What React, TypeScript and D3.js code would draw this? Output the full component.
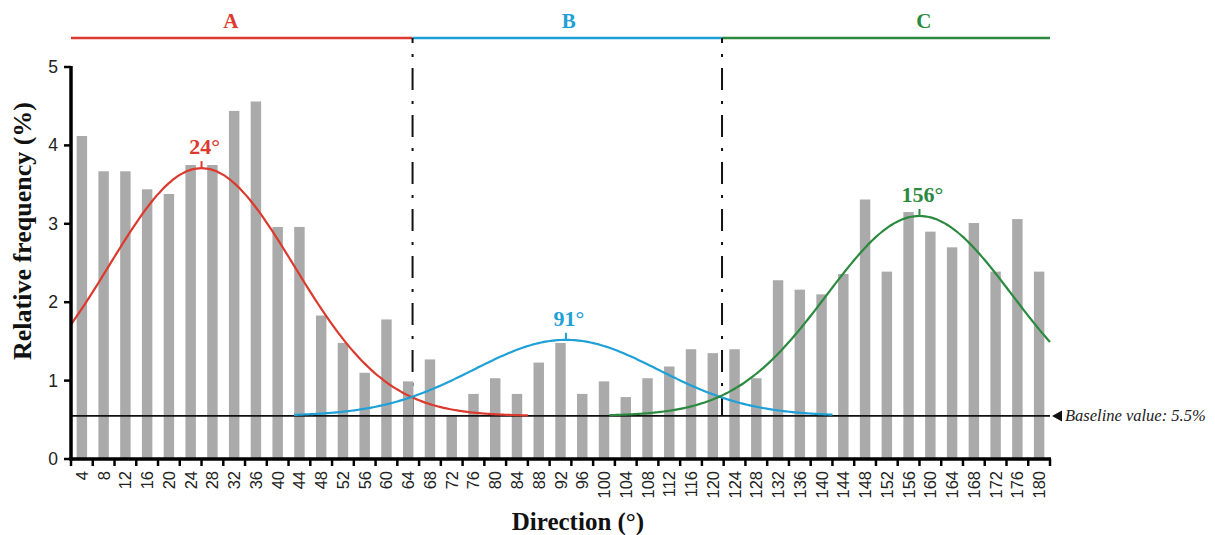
import React from 'react';
import * as d3 from 'd3';

// ---- data ----
const directions = [4, 8, 12, 16, 20, 24, 28, 32, 36, 40, 44, 48, 52, 56, 60, 64, 68, 72, 76, 80, 84, 88, 92, 96, 100, 104, 108, 112, 116, 120, 124, 128, 132, 136, 140, 144, 148, 152, 156, 160, 164, 168, 172, 176, 180];
const frequencies = [4.12, 3.67, 3.67, 3.44, 3.38, 3.75, 3.75, 4.44, 4.56, 2.96, 2.96, 1.83, 1.48, 1.10, 1.78, 0.99, 1.27, 0.55, 0.83, 1.03, 0.83, 1.23, 1.48, 0.83, 0.99, 0.79, 1.03, 1.18, 1.40, 1.35, 1.40, 1.03, 2.28, 2.16, 2.10, 2.36, 3.31, 2.39, 3.15, 2.90, 2.70, 3.01, 2.39, 3.06, 2.39];
const yTicks = [0, 1, 2, 3, 4, 5];
const baselineValue = 0.55;
const baselineLabel = 'Baseline value: 5.5%';

// fitted components (peak direction, peak height above baseline, spread, drawn range)
const componentNames = ['A', 'B', 'C'];
const componentColors = ['#dc3a2e', '#1fa0d6', '#2b8a3f'];
const componentPeaks = [24, 91, 156];
const componentHeights = [3.16, 0.97, 2.55];
const componentSigmas = [17, 17, 17];
const componentFrom = [0, 41, 99];
const componentTo = [84, 140, 180];
const componentLabels = ['24°', '91°', '156°'];
// section boundaries along the top bar
const sectionBounds = [0, 62.8, 119.7, 180];
const sectionLabelAt = [29.4, 91.5, 156.8];

const W = 1215;
const H = 535;
const X0 = 71;
const X1 = 1050;
const Y0 = 459;
const Y1 = 67;
const TOP = 38;

export default function App() {
  const x = d3.scaleLinear().domain([0, 180]).range([X0, X1]);
  const y = d3.scaleLinear().domain([0, 5]).range([Y0, Y1]);
  const band = d3
    .scaleBand<number>()
    .domain(directions)
    .range([X0, X1])
    .paddingInner(0.52)
    .paddingOuter(0.26);
  const step = band.step();

  const serif = '"Liberation Serif", "Times New Roman", serif';
  const sans = '"Liberation Sans", Arial, sans-serif';

  const curves = componentPeaks.map((mu, i) => {
    const pts: [number, number][] = [];
    const sig = componentSigmas[i];
    for (let d = componentFrom[i]; d <= componentTo[i] + 1e-9; d += 0.5) {
      const v = baselineValue + componentHeights[i] * Math.exp(-((d - mu) ** 2) / (2 * sig * sig));
      pts.push([d, v]);
    }
    return pts;
  });
  const line = d3
    .line<[number, number]>()
    .x((p) => x(p[0]))
    .y((p) => y(p[1]))
    .curve(d3.curveBasis);

  const boundaryTicks = d3.range(0, directions.length + 1).map((i) => X0 + i * step);

  return (
    <svg
      width={W}
      height={H}
      style={{ position: 'absolute', left: 0, top: 0, background: '#fff' }}
    >
      {/* top section lines and labels */}
      {componentNames.map((n, i) => (
        <g key={n}>
          <line
            x1={x(sectionBounds[i])}
            x2={x(sectionBounds[i + 1])}
            y1={TOP}
            y2={TOP}
            stroke={componentColors[i]}
            strokeWidth={2.5}
          />
          <text
            x={x(sectionLabelAt[i])}
            y={28}
            textAnchor="middle"
            fontFamily={serif}
            fontWeight="bold"
            fontSize={21}
            fill={componentColors[i]}
          >
            {n}
          </text>
        </g>
      ))}

      {/* dash-dot dividers */}
      {[sectionBounds[1], sectionBounds[2]].map((d, i) => (
        <line
          key={i}
          x1={x(d)}
          x2={x(d)}
          y1={TOP}
          y2={y(baselineValue)}
          stroke="#111"
          strokeWidth={2}
          strokeDasharray="22,11,3,11"
          strokeDashoffset={17}
        />
      ))}

      {/* bars */}
      {directions.map((d, i) => (
        <rect
          key={d}
          x={band(d)}
          y={y(frequencies[i])}
          width={band.bandwidth()}
          height={y(0) - y(frequencies[i])}
          fill="#aaaaaa"
        />
      ))}

      {/* baseline */}
      <line x1={X0} x2={X1} y1={y(baselineValue)} y2={y(baselineValue)} stroke="#111" strokeWidth={1.6} />
      <path
        d={`M${X1 + 2},${y(baselineValue)} L${X1 + 12},${y(baselineValue) - 5.5} L${X1 + 12},${y(baselineValue) + 5.5} Z`}
        fill="#111"
      />
      <text
        x={X1 + 15}
        y={y(baselineValue) + 5}
        fontFamily={serif}
        fontStyle="italic"
        fontSize={16.5}
        fill="#222"
      >
        {baselineLabel}
      </text>

      {/* fitted curves */}
      {curves.map((pts, i) => (
        <path key={i} d={line(pts) || ''} fill="none" stroke={componentColors[i]} strokeWidth={2.2} />
      ))}

      {/* peak markers */}
      {componentPeaks.map((mu, i) => {
        const py = y(baselineValue + componentHeights[i]);
        return (
          <g key={mu}>
            <line x1={x(mu)} x2={x(mu)} y1={py} y2={py - 7} stroke={componentColors[i]} strokeWidth={2} />
            <text
              x={x(mu) + 3}
              y={py - 14}
              textAnchor="middle"
              fontFamily={serif}
              fontWeight="bold"
              fontSize={22}
              fill={componentColors[i]}
            >
              {componentLabels[i]}
            </text>
          </g>
        );
      })}

      {/* y axis */}
      <line x1={X0} x2={X0} y1={Y1 - 1} y2={Y0 + 1.5} stroke="#000" strokeWidth={3.5} />
      {yTicks.map((t) => (
        <g key={t}>
          <line x1={X0 - 7} x2={X0} y1={y(t)} y2={y(t)} stroke="#000" strokeWidth={2.5} />
          <text
            x={X0 - 13}
            y={y(t)}
            textAnchor="end"
            dominantBaseline="central"
            fontFamily={sans}
            fontSize={17.5}
            fill="#222"
          >
            {t}
          </text>
        </g>
      ))}
      <text
        transform={`translate(31, 231) rotate(-90)`}
        textAnchor="middle"
        fontFamily={serif}
        fontWeight="bold"
        fontSize={26}
        fill="#111"
      >
        Relative frequency (%)
      </text>

      {/* x axis */}
      <line x1={X0 - 1.5} x2={X1 + 1} y1={Y0} y2={Y0} stroke="#000" strokeWidth={3.5} />
      {boundaryTicks.map((bx, i) => (
        <line key={i} x1={bx} x2={bx} y1={Y0} y2={Y0 + 7} stroke="#000" strokeWidth={2.5} />
      ))}
      {directions.map((d) => (
        <text
          key={d}
          transform={`translate(${(band(d) || 0) + band.bandwidth() / 2}, 471) rotate(-90)`}
          textAnchor="end"
          dominantBaseline="central"
          fontFamily={sans}
          fontSize={16.5}
          fill="#222"
        >
          {d}
        </text>
      ))}
      <text
        x={578}
        y={530}
        textAnchor="middle"
        fontFamily={serif}
        fontWeight="bold"
        fontSize={25}
        fill="#111"
      >
        Direction (°)
      </text>
    </svg>
  );
}
